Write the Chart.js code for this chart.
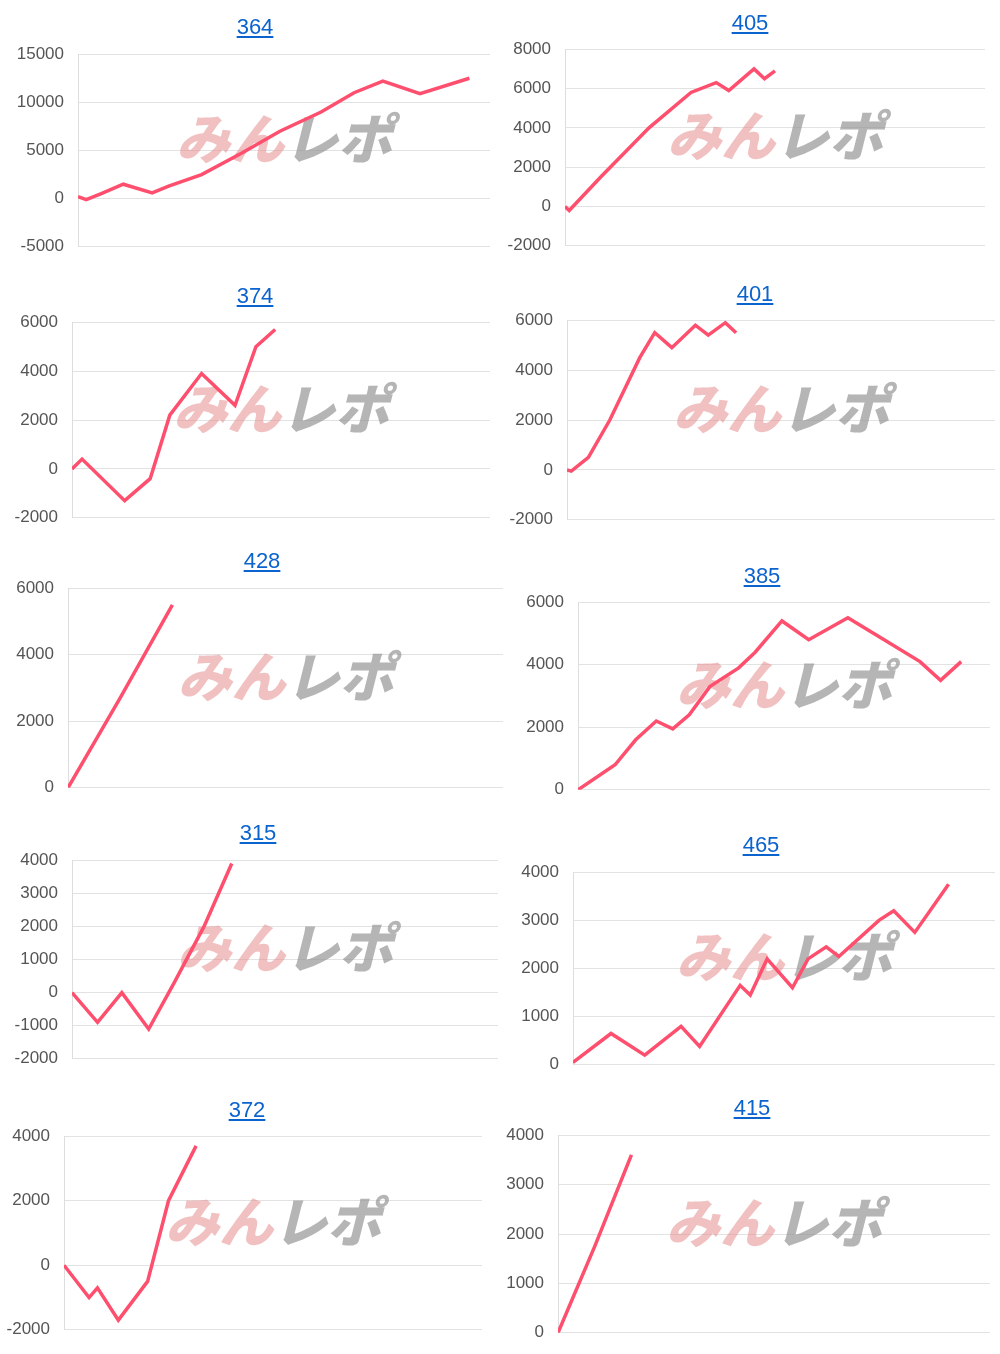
<!DOCTYPE html>
<html><head><meta charset="utf-8">
<script src="https://cdn.jsdelivr.net/npm/chart.js@4"></script>
<style>
body{margin:0;background:#fff;width:1000px;height:1354px;position:relative;overflow:hidden;font-family:"Liberation Sans",Arial,sans-serif}
.t{position:absolute;transform:translateX(-50%);color:#0b63ce;text-decoration:underline;font-size:22px}
canvas{position:absolute}
</style></head><body>
<script>
// titles (machine numbers)
const titles = ['364','405','374','401','428','385','315','465','372','415'];

// x = position in % of plot width, y = running total
const xs364 = [0,2,5.5,11,18,22,30,40,49,59,67,74,83,95];
const ys364 = [200,-100,500,1500,600,1300,2500,4800,7000,9000,11000,12200,10900,12500];
const xs405 = [0,1,8.5,20,30,36,39,45,47.5,50];
const ys405 = [0,-200,1500,4000,5800,6300,5900,7000,6500,6900];
const xs374 = [0,2.4,12.6,18.7,23.4,31,39,44,48.6];
const ys374 = [0,400,-1300,-400,2200,3900,2600,5000,5700];
const xs401 = [0,1,5,10,17,20.5,24.5,30,33,37,39.5];
const ys401 = [0,-50,500,2000,4500,5500,4900,5800,5400,5900,5500];
const xs428 = [0,12,24];
const ys428 = [0,2700,5500];
const xs385 = [0,9,14,19,23,27,32,39,43,49.5,56,65.5,73,83,88,93];
const ys385 = [0,800,1600,2200,1950,2400,3300,3900,4400,5400,4800,5500,4900,4100,3500,4100];
const xs315 = [0,6,11.7,18,24,31,37.5];
const ys315 = [0,-900,0,-1100,300,2000,3900];
const xs465 = [0,9,17,25.6,30,39.6,42,46,52,55.7,60,63,72.5,76,81,89];
const ys465 = [50,650,200,800,380,1650,1450,2200,1600,2200,2450,2250,3000,3200,2750,3750];
const xs372 = [0,6,8,13,20,25,31.6];
const ys372 = [0,-1000,-700,-1700,-500,2000,3700];
const xs415 = [0,8.5,17];
const ys415 = [0,1750,3600];

// y axis ranges: [min, max, step]
const yRanges = [[-5000,15000,5000],[-2000,8000,2000],[-2000,6000,2000],[-2000,6000,2000],[0,6000,2000],
                 [0,6000,2000],[-2000,4000,1000],[0,4000,1000],[-2000,4000,2000],[0,4000,1000]];

const seriesX = [xs364,xs405,xs374,xs401,xs428,xs385,xs315,xs465,xs372,xs415];
const seriesY = [ys364,ys405,ys374,ys401,ys428,ys385,ys315,ys465,ys372,ys415];

// layout: [titleX, titleY, plotLeft, plotTop, plotRight, plotBottom]
const boxes = [
  [255,14,78,54,490,247],[750,10,565,49,985,246],
  [255,283,72,322,490,518],[755,281,567,320,995,520],
  [262,548,68,588,503,788],[762,563,578,602,990,790],
  [258,820,72,860,498,1059],[761,832,573,872,995,1065],
  [247,1097,64,1136,482,1330],[752,1095,558,1135,990,1333]
];

const AXW = 72, PAD = 24;

const watermark = {
  id: 'watermark',
  beforeDatasetsDraw(chart) {
    const a = chart.chartArea, ctx = chart.ctx;
    const cx = (a.left + a.right) / 2, cy = (a.top + a.bottom) / 2 - 12;
    ctx.save();
    ctx.font = 'italic 900 54px "Noto Sans CJK JP"';
    ctx.textBaseline = 'middle';
    const w1 = ctx.measureText('みん').width, w2 = ctx.measureText('レポ').width;
    const x0 = cx - (w1 + w2) / 2;
    ctx.fillStyle = 'rgba(230,140,140,0.55)';
    ctx.fillText('みん', x0, cy);
    ctx.fillStyle = 'rgba(150,150,150,0.7)';
    ctx.fillText('レポ', x0 + w1, cy);
    ctx.restore();
  }
};

boxes.forEach((b, i) => {
  const [tx, ty, pl, pt, pr, pb] = b;
  const a = document.createElement('a');
  a.className = 't'; a.href = '#'; a.textContent = titles[i];
  a.style.left = tx + 'px'; a.style.top = ty + 'px';
  document.body.appendChild(a);

  const cv = document.createElement('canvas');
  const w = pr - pl + AXW, h = pb - pt + 2 * PAD;
  cv.style.left = (pl - AXW) + 'px'; cv.style.top = (pt - PAD) + 'px';
  cv.style.width = w + 'px'; cv.style.height = h + 'px';
  cv.width = w; cv.height = h;
  document.body.insertBefore(cv, document.body.firstChild);

  const [ymin, ymax, step] = yRanges[i];
  new Chart(cv, {
    type: 'line',
    data: { datasets: [{
      data: seriesX[i].map((x, k) => ({ x, y: seriesY[i][k] })),
      borderColor: '#ff4f6e', borderWidth: 3.5, pointRadius: 0, tension: 0
    }]},
    options: {
      responsive: false, animation: false,
      layout: { padding: 0 },
      plugins: { legend: { display: false }, tooltip: { enabled: false } },
      scales: {
        x: { type: 'linear', min: 0, max: 100, display: false },
        y: {
          min: ymin, max: ymax,
          afterFit(s) { s.width = AXW; },
          ticks: { stepSize: step, color: '#555', padding: 14,
                   callback: v => String(v),
                   font: { family: '"Liberation Sans", Arial', size: 17 } },
          grid: { color: '#e2e2e2', drawTicks: false },
          border: { display: true, color: '#ddd' }
        }
      }
    },
    plugins: [watermark]
  });
});
</script>
</body></html>
